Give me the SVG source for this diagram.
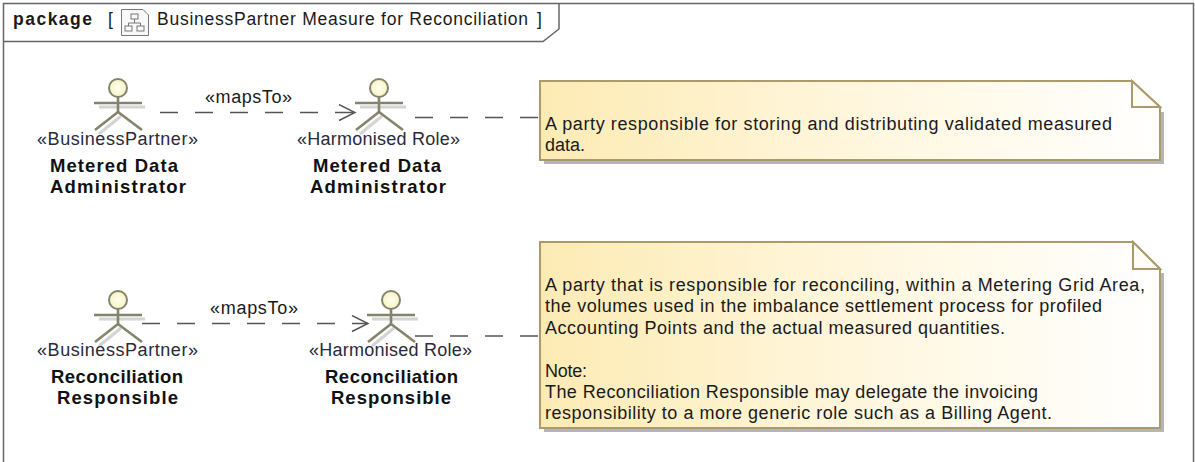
<svg xmlns="http://www.w3.org/2000/svg" width="1195" height="462" viewBox="0 0 1195 462">
<style>
text{font-family:"Liberation Sans",Arial,sans-serif;font-size:18px;fill:#1a1a1a}
.b{font-size:18.500px;font-weight:bold;text-anchor:middle;fill:#111}
.s{text-anchor:middle;fill:#2a2a3a}
.t{font-size:17.500px}
.c{fill:none;stroke:#555;stroke-width:1.4;stroke-dasharray:18 17}
.a line{stroke:#84846c;stroke-width:2.6}
.as line{stroke:#d4d4d4;stroke-width:3}
.head{fill:url(#hg);stroke:#84846c;stroke-width:2}
.n{fill:url(#ng);stroke:#aa9a6c;stroke-width:2}
.f{fill:#fffdf6;stroke:#aa9a6c;stroke-width:2}
.sh{fill:#b5b5b5}
</style>
<defs>
<linearGradient id="ng" x1="0" y1="0" x2="1" y2="0"><stop offset="0" stop-color="#fdebb4"/><stop offset="0.5" stop-color="#fff6dc"/><stop offset="1" stop-color="#ffffff"/></linearGradient>
<radialGradient id="hg"><stop offset="0" stop-color="#ffffee"/><stop offset="1" stop-color="#f6f3c4"/></radialGradient>
<marker id="ar" markerWidth="20" markerHeight="20" refX="18" refY="9" orient="auto" markerUnits="userSpaceOnUse"><path d="M2 1L18 9L2 17" fill="none" stroke="#555" stroke-width="1.4"/></marker>
<g id="actor">
<g class="as" transform="translate(3,4)"><line x1="-22" y1="15" x2="24" y2="15"/><line x1="0" y1="24" x2="-22" y2="42"/></g>
<g class="a"><line x1="0" y1="9" x2="0" y2="24"/><line x1="-24" y1="15" x2="24" y2="15"/><line x1="0" y1="24" x2="-23" y2="42"/><line x1="0" y1="24" x2="24" y2="42"/></g>
<circle class="head" cx="0" cy="0" r="9"/>
</g>
</defs>
<rect width="1195" height="462" fill="#fff"/>
<g id="frame">
<path d="M3.500 470V3.500H1193.500V470" fill="none" stroke="#666" stroke-width="1.500"/>
<path d="M3.500 41.500H543L559 29V3.500" fill="none" stroke="#666" stroke-width="1.500"/>
<text class="t" x="13" y="24.500" style="font-weight:bold" textLength="79">package</text>
<text class="t" x="108" y="24.500" fill="#1a5a9a">[</text>
<g fill="none" stroke="#777" stroke-width="1"><path d="M121.500 9.500H143L148.500 15V35.500H121.500Z" fill="#f8f8f8"/><rect x="131" y="14" width="7" height="5"/><rect x="125" y="26" width="7" height="5"/><rect x="137" y="26" width="7" height="5"/><path d="M134.500 19V23M128.500 26V23H140.500V26"/></g>
<text class="t" x="157" y="24.500" textLength="371">BusinessPartner Measure for Reconciliation</text>
<text class="t" x="537" y="24.500">]</text>
</g>
<g id="connectors">
<line class="c" x1="160" y1="112.500" x2="355" y2="112.500" marker-end="url(#ar)"/>
<line class="c" x1="415" y1="117.500" x2="539" y2="117.500"/>
<line class="c" x1="142" y1="323.500" x2="368" y2="323.500" marker-end="url(#ar)"/>
<line class="c" x1="415" y1="336" x2="539" y2="336"/>
<text x="248.500" y="103" text-anchor="middle" textLength="87">«mapsTo»</text>
<text x="254" y="314" text-anchor="middle" textLength="88">«mapsTo»</text>
</g>
<g id="actor1"><use href="#actor" x="118" y="88"/><text class="s" x="117.500" y="145" textLength="161">«BusinessPartner»</text><text class="b" x="114" y="172" textLength="128">Metered Data</text><text class="b" x="118" y="193" textLength="136">Administrator</text></g>
<g id="actor2"><use href="#actor" x="379" y="88"/><text class="s" x="378.500" y="145" textLength="163">«Harmonised Role»</text><text class="b" x="377" y="172" textLength="128">Metered Data</text><text class="b" x="378" y="193" textLength="136">Administrator</text></g>
<g id="actor3"><use href="#actor" x="118" y="300"/><text class="s" x="117.500" y="356" textLength="161">«BusinessPartner»</text><text class="b" x="117" y="382.500" textLength="132">Reconciliation</text><text class="b" x="117.500" y="404" textLength="121">Responsible</text></g>
<g id="actor4"><use href="#actor" x="391" y="300"/><text class="s" x="390.500" y="356" textLength="163">«Harmonised Role»</text><text class="b" x="391.500" y="382.500" textLength="133">Reconciliation</text><text class="b" x="391" y="404" textLength="120">Responsible</text></g>
<g id="note1">
<path class="sh" d="M1160 112H1164V164H544V160H1160Z"/>
<path class="n" d="M540 81H1132L1160 107V160H540Z"/><path class="f" d="M1132 81V107H1160Z"/>
<text x="545" y="129.500" textLength="567">A party responsible for storing and distributing validated measured</text>
<text x="545" y="150.500" textLength="40">data.</text>
</g>
<g id="note2">
<path class="sh" d="M1160 273H1164V432H544V428H1160Z"/>
<path class="n" d="M540 242H1133L1160 269V428H540Z"/><path class="f" d="M1133 242V269H1160Z"/>
<text x="545" y="290.500" textLength="600">A party that is responsible for reconciling, within a Metering Grid Area,</text>
<text x="545" y="312" textLength="557">the volumes used in the imbalance settlement process for profiled</text>
<text x="545" y="333.500" textLength="460">Accounting Points and the actual measured quantities.</text>
<text x="545" y="376.500" textLength="42">Note:</text>
<text x="545" y="398" textLength="493">The Reconciliation Responsible may delegate the invoicing</text>
<text x="545" y="419" textLength="507">responsibility to a more generic role such as a Billing Agent.</text>
</g>
</svg>
